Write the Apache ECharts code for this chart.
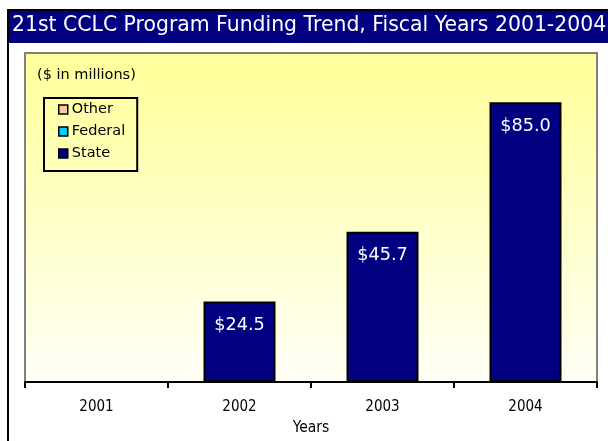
<!DOCTYPE html>
<html>
<head>
<meta charset="utf-8">
<script src="https://cdn.jsdelivr.net/npm/echarts@6/dist/echarts.min.js"></script>
<style>html,body{margin:0;padding:0;background:#fff}#c{width:608px;height:441px}</style>
</head>
<body>
<div id="c"></div>
<script>
const years = ['2001', '2002', '2003', '2004'];
const otherValues = [0, 0, 0, 0];
const federalValues = [0, 0, 0, 0];
const stateValues = [0, 24.5, 45.7, 85.0];
const seriesNames = ['Other', 'Federal', 'State'];
const titleText = '21st CCLC Program Funding Trend, Fiscal Years 2001-2004';
const unitText = '($ in millions)';
const xAxisName = 'Years';

const FONT = '"DejaVu Sans", sans-serif';
const FONT_C = '"DejaVu Sans Condensed", "DejaVu Sans", sans-serif';
const chart = echarts.init(document.getElementById('c'), null, {renderer: 'canvas'});

const option = {
  animation: false,
  backgroundColor: '#ffffff',
  textStyle: {fontFamily: FONT},
  graphic: [
    {type: 'rect', z: -10, shape: {x: 8, y: 10, width: 700, height: 500}, style: {fill: 'none', stroke: '#000', lineWidth: 2}},
    {type: 'rect', z: -9, shape: {x: 9, y: 11, width: 700, height: 32}, style: {fill: '#000080'}},
    {type: 'text', z: 10, left: 12, top: 16, style: {text: titleText, fill: '#fff', font: '20.4px ' + FONT}},
    {type: 'text', z: 10, left: 37, top: 68, style: {text: unitText, fill: '#000', font: '14.5px ' + FONT}}
  ],
  legend: {
    data: seriesNames,
    orient: 'vertical',
    left: 44,
    top: 98,
    padding: [3, 12, 9, 14],
    borderColor: '#000',
    borderWidth: 2,
    itemWidth: 9,
    itemHeight: 9,
    itemGap: 5,
    icon: 'rect',
    itemStyle: {borderColor: '#000', borderWidth: 1.5},
    textStyle: {fontSize: 14.5, color: '#000', fontFamily: FONT, lineHeight: 17, padding: [0, 0, 0, -1]}
  },
  grid: {
    left: 25, right: 11, top: 53, bottom: 56,
    show: true,
    borderColor: '#808080',
    borderWidth: 2,
    backgroundColor: new echarts.graphic.LinearGradient(0, 0, 0, 1, [
      {offset: 0, color: '#ffff99'},
      {offset: 1, color: '#fffff6'}
    ])
  },
  xAxis: {
    type: 'category',
    data: years,
    name: xAxisName,
    nameLocation: 'middle',
    nameGap: 16,
    nameTextStyle: {fontSize: 15.5, color: '#000', fontFamily: FONT_C},
    axisLine: {lineStyle: {color: '#000', width: 2}},
    axisTick: {show: true, length: 6, lineStyle: {color: '#000', width: 2}},
    axisLabel: {fontSize: 15, color: '#000', margin: 18, fontFamily: FONT_C}
  },
  yAxis: {
    type: 'value', min: 0, max: 100, show: false,
    splitLine: {show: false}
  },
  series: [
    {name: 'Other', type: 'bar', stack: 'f', data: otherValues, barWidth: 72,
     itemStyle: {color: '#f9c9a6', borderColor: '#000', borderWidth: 0}},
    {name: 'Federal', type: 'bar', stack: 'f', data: federalValues, barWidth: 72,
     itemStyle: {color: '#00ccff', borderColor: '#000', borderWidth: 0}},
    {name: 'State', type: 'bar', stack: 'f', data: stateValues, barWidth: 72,
     itemStyle: {color: '#000080', borderColor: '#000', borderWidth: 2},
     label: {show: true, position: 'insideTop', distance: 15, color: '#fff', fontSize: 17.7, fontFamily: FONT,
       formatter: p => p.value > 0 ? '$' + p.value.toFixed(1) : ''}}
  ]
};
chart.setOption(option);
</script>
</body>
</html>
